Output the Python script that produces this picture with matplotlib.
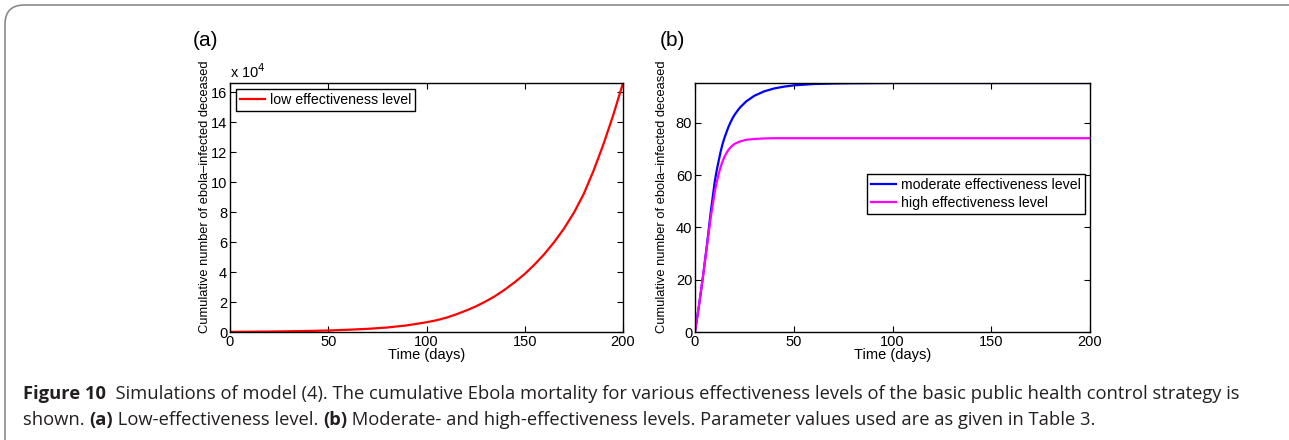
import numpy as np
import matplotlib
matplotlib.use("Agg")
import matplotlib.pyplot as plt
from matplotlib.patches import FancyBboxPatch
from matplotlib.ticker import FuncFormatter

# ---- data ----
# (a) low effectiveness level, values in deceased (x 10^4 on the axis)
t_low = [0, 10, 20, 30, 40, 50, 60, 70, 80, 90, 100, 105, 110, 115, 120, 125,
         130, 135, 140, 145, 150, 155, 160, 165, 170, 175, 180, 185, 190, 195, 200]
low = [0.01, 0.02, 0.03, 0.05, 0.07, 0.10, 0.15, 0.21, 0.30, 0.44, 0.65, 0.78,
       0.95, 1.17, 1.42, 1.70, 2.03, 2.40, 2.84, 3.33, 3.87, 4.50, 5.20, 6.00,
       6.90, 7.95, 9.20, 10.75, 12.50, 14.45, 16.60]
low = [v * 1e4 for v in low]

# (b) moderate and high effectiveness levels
t_b = [0, 2, 4, 6, 8, 10, 11, 12, 13, 14, 15, 16, 17, 18, 19, 20, 22, 23, 26,
       30, 35, 40, 45, 50, 60, 70, 80, 100, 150, 200]
moderate = [0, 10, 21, 33, 46, 57.5, 61.8, 65.5, 69, 72, 74.4, 76.5, 78.5,
            80.2, 81.7, 83, 85.1, 86, 88.2, 90.3, 92, 93.1, 93.8, 94.3, 94.8,
            95.0, 95.1, 95.2, 95.2, 95.2]
high = [0, 10, 21, 32.5, 44, 53.5, 57.3, 60.5, 63.1, 65.3, 67.1, 68.5, 69.7,
        70.6, 71.3, 71.9, 72.6, 72.9, 73.5, 73.8, 74.0, 74.1, 74.1, 74.1,
        74.1, 74.1, 74.1, 74.1, 74.1, 74.1]

ylab = "Cumulative number of ebola\u2013infected deceased"
fnt = "Liberation Sans"

W, H = 1289, 440
fig = plt.figure(figsize=(W / 100, H / 100), dpi=100)
plt.rcParams['font.family'] = [fnt, 'DejaVu Sans']


def style_axes(ax):
    for s in ax.spines.values():
        s.set_linewidth(1.0)
    ax.tick_params(direction='in', top=True, right=True, length=4, width=0.8,
                   labelsize=10.5, pad=2)
    ax.xaxis.set_label_coords(0.5, -0.065)
    ax.set_xlabel("Time (days)", fontsize=10.5, va='top')
    ax.set_ylabel(ylab, fontsize=9.3, labelpad=1)


# panel a
ax1 = fig.add_axes([230 / W, 1 - 332 / H, 393 / W, 249 / H])
ax1.plot(t_low, low, color=(1, 0, 0), lw=1.6, label="low effectiveness level")
ax1.set_xlim(0, 200)
ax1.set_ylim(0, max(low))
ax1.set_xticks([0, 50, 100, 150, 200])
ax1.set_yticks(np.arange(0, 17, 2) * 1e4)
ax1.yaxis.set_major_formatter(FuncFormatter(lambda v, p: "%d" % round(v / 1e4)))
style_axes(ax1)
ax1.yaxis.set_label_coords(-0.048, 0.545)
ax1.text(0.0, 1.01, "x 10$^4$", transform=ax1.transAxes, fontsize=10.5,
         va='bottom', ha='left')
ax1.legend(loc='upper left', fontsize=10.2, frameon=True, fancybox=False,
           edgecolor='black', framealpha=1, handlelength=1.8, handletextpad=0.3,
           borderpad=0.3, borderaxespad=0.4).get_frame().set_linewidth(1.0)

# panel b
ax2 = fig.add_axes([695 / W, 1 - 332 / H, 395 / W, 249 / H])
ax2.plot(t_b, moderate, color=(0, 0, 1), lw=1.6, label="moderate effectiveness level")
ax2.plot(t_b, high, color=(1, 0, 1), lw=1.6, label="high effectiveness level")
ax2.set_xlim(0, 200)
ax2.set_ylim(0, max(moderate))
ax2.set_xticks([0, 50, 100, 150, 200])
ax2.set_yticks([0, 20, 40, 60, 80])
style_axes(ax2)
ax2.yaxis.set_label_coords(-0.068, 0.545)
ax2.legend(loc='upper right', bbox_to_anchor=(0.987, 0.635), borderaxespad=0,
           fontsize=10.2, frameon=True, fancybox=False, edgecolor='black',
           framealpha=1, handlelength=1.8, handletextpad=0.3, borderpad=0.3,
           labelspacing=0.25).get_frame().set_linewidth(1.0)

# panel letters
fig.text(193 / W, 1 - 40 / H, "(a)", fontsize=15, va='center', ha='left')
fig.text(660 / W, 1 - 40 / H, "(b)", fontsize=15, va='center', ha='left')

# outer rounded frame (only top and left edges are visible)
frame = FancyBboxPatch((5 / W, -0.2), 1.3, 1.2 - 5 / H,
                       boxstyle="round,pad=0,rounding_size=0.015",
                       transform=fig.transFigure, facecolor='none',
                       edgecolor='#8a8a8a', linewidth=1.2, mutation_aspect=W / H)
fig.patches.append(frame)

# caption with bold runs
cap_font = "Open Sans"
line1 = [("Figure 10", 'bold'),
         ("  Simulations of model (4). The cumulative Ebola mortality for various "
          "effectiveness levels of the basic public health control strategy is", 'normal')]
line2 = [("shown. ", 'normal'), ("(a)", 'bold'), (" Low-effectiveness level. ", 'normal'),
         ("(b)", 'bold'),
         (" Moderate- and high-effectiveness levels. Parameter values used are as "
          "given in Table 3.", 'normal')]

renderer = fig.canvas.get_renderer()


def draw_line(runs, x0, y, size):
    x = x0
    texts = []
    for s, w in runs:
        t = fig.text(x / W, 1 - y / H, s, fontsize=size, fontweight=w,
                     family=cap_font, color='#231f20', va='baseline', ha='left')
        x += t.get_window_extent(renderer).width
        texts.append(t)
    return x, texts


# fit first caption line to the reference width (x 23 -> 1235)
end, tmp = draw_line(line1, 23, 399, 12.0)
for t in tmp:
    t.remove()
cap_size = 12.0 * (1235 - 23) / (end - 23)
draw_line(line1, 23, 399, cap_size)
draw_line(line2, 23, 425, cap_size)

fig.savefig("out.png", dpi=100)
